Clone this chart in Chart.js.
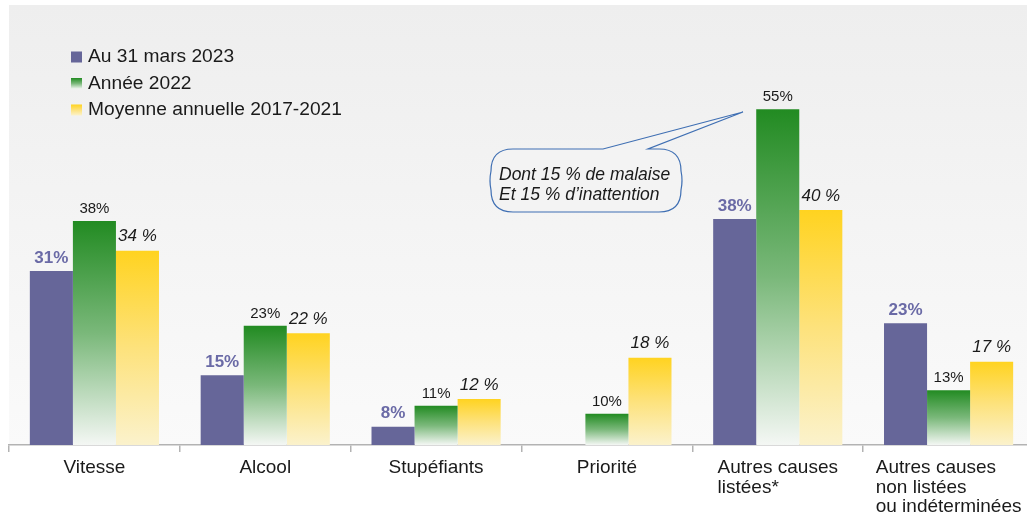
<!DOCTYPE html>
<html>
<head>
<meta charset="utf-8">
<script src="https://cdn.jsdelivr.net/npm/chart.js@4.4.0/dist/chart.umd.min.js"></script>
<style>
    html, body { margin: 0; padding: 0; background: #ffffff; overflow: hidden; }
    #wrap { width: 1040px; height: 517px; }
</style>
</head>
<body>
<div id="wrap"><canvas id="chart" width="1040" height="517"></canvas></div>
<script>
// Categories (x axis)
const categories = [
    ['Vitesse'],
    ['Alcool'],
    ['Stupéfiants'],
    ['Priorité'],
    ['Autres causes', 'listées*'],
    ['Autres causes', 'non listées', 'ou indéterminées']
];

// Series values, in %
const seriesNames = ['Au 31 mars 2023', 'Année 2022', 'Moyenne annuelle 2017-2021'];
const mars2023 = [30.7, 15.3, 7.7, null, 38.4, 23.0];
const annee2022 = [38.1, 22.6, 10.8, 9.6, 54.6, 13.1];
const moyenne1721 = [33.7, 21.5, 11.8, 17.9, 39.7, 17.3];

// Callout text
const calloutLines = ['Dont 15 % de malaise', 'Et 15 % d\u2019inattention'];

const FONT = '"Liberation Sans", Arial, sans-serif';
const PURPLE = '#666699';
const PURPLE_TEXT = '#6a6aa6';
const TEXT = '#1a1a1a';

function greenGradient(ctx, top, bottom) {
    const g = ctx.createLinearGradient(0, top, 0, bottom);
    g.addColorStop(0, '#228b22');
    g.addColorStop(0.5, '#7ab87a');
    g.addColorStop(1, '#f4f7f4');
    return g;
}

function yellowGradient(ctx, top, bottom) {
    const g = ctx.createLinearGradient(0, top, 0, bottom);
    g.addColorStop(0, '#ffd320');
    g.addColorStop(0.5, '#fde27c');
    g.addColorStop(1, '#fbf2cc');
    return g;
}

// Gradient fill running from the top of each bar down to the axis
function barFill(maker, fallback) {
    return function(context) {
        const chart = context.chart;
        const area = chart.chartArea;
        if (!area || context.raw === null || context.raw === undefined) return fallback;
        const top = chart.scales.y.getPixelForValue(context.raw);
        return maker(chart.ctx, top, area.bottom);
    };
}

// Plot background
const backgroundPlugin = {
    id: 'plotBackground',
    beforeDraw(chart) {
        const { ctx, chartArea } = chart;
        const g = ctx.createLinearGradient(0, chartArea.top, 0, chartArea.bottom);
        g.addColorStop(0, '#eeeeee');
        g.addColorStop(1, '#fafafa');
        ctx.save();
        ctx.fillStyle = g;
        ctx.fillRect(chartArea.left, chartArea.top, chartArea.right - chartArea.left, chartArea.bottom - chartArea.top);
        ctx.restore();
    }
};

// Value labels, legend, category labels and callout
const labelsPlugin = {
    id: 'customLabels',
    afterDraw(chart) {
        const ctx = chart.ctx;
        ctx.save();

        // value labels above bars
        const styles = [
            { font: 'bold 17px ' + FONT, color: PURPLE_TEXT, gap: 13, fmt: v => Math.round(v) + '%' },
            { font: '15px ' + FONT, color: TEXT, gap: 12, fmt: v => Math.round(v) + '%' },
            { font: 'italic 17px ' + FONT, color: TEXT, gap: 14, fmt: v => Math.round(v) + ' %' }
        ];
        chart.data.datasets.forEach((ds, i) => {
            const meta = chart.getDatasetMeta(i);
            const st = styles[i];
            ctx.font = st.font;
            ctx.fillStyle = st.color;
            ctx.textAlign = 'center';
            ctx.textBaseline = 'middle';
            meta.data.forEach((bar, j) => {
                const v = ds.data[j];
                if (v === null) return;
                ctx.fillText(st.fmt(v), bar.x, bar.y - st.gap);
            });
        });

        // category labels (longest line centred, others left-aligned to it)
        const xScale = chart.scales.x;
        const baseY = chart.chartArea.bottom + 23;
        ctx.font = '19px ' + FONT;
        ctx.fillStyle = TEXT;
        ctx.textBaseline = 'middle';
        categories.forEach((lines, i) => {
            const cx = xScale.getPixelForValue(i);
            const w = Math.max(...lines.map(l => ctx.measureText(l).width));
            ctx.textAlign = 'left';
            lines.forEach((l, k) => {
                const x = lines.length > 1 ? cx - w / 2 : cx - ctx.measureText(l).width / 2;
                ctx.fillText(l, x, baseY + k * 19.5);
            });
        });

        // legend
        const swatches = [
            () => PURPLE,
            (y) => greenGradient(ctx, y, y + 11),
            (y) => yellowGradient(ctx, y, y + 11)
        ];
        const rowsY = [57, 83.5, 110];
        ctx.font = '19.2px ' + FONT;
        ctx.textAlign = 'left';
        seriesNames.forEach((name, i) => {
            const y = rowsY[i];
            ctx.fillStyle = swatches[i](y - 5.5);
            ctx.fillRect(71, y - 5.5, 11, 11);
            ctx.fillStyle = TEXT;
            ctx.fillText(name, 88, y);
        });

        // callout bubble
        const left = 491, right = 681, top = 149, bottom = 212, r = 22;
        ctx.beginPath();
        ctx.moveTo(left + r, top);
        ctx.lineTo(603, top);
        ctx.lineTo(743, 112);
        ctx.lineTo(648, top);
        ctx.lineTo(right - r, top);
        ctx.quadraticCurveTo(right, top, right, top + r);
        ctx.quadraticCurveTo(right + 2, (top + bottom) / 2, right, bottom - r);
        ctx.quadraticCurveTo(right, bottom, right - r, bottom);
        ctx.lineTo(left + r, bottom);
        ctx.quadraticCurveTo(left, bottom, left, bottom - r);
        ctx.quadraticCurveTo(left - 2, (top + bottom) / 2, left, top + r);
        ctx.quadraticCurveTo(left, top, left + r, top);
        ctx.closePath();
        ctx.fillStyle = 'rgba(243, 243, 243, 0.9)';
        ctx.fill();
        ctx.strokeStyle = '#3f6fb3';
        ctx.lineWidth = 1.2;
        ctx.stroke();

        ctx.font = 'italic 17.5px ' + FONT;
        ctx.fillStyle = TEXT;
        ctx.textAlign = 'left';
        calloutLines.forEach((l, k) => {
            ctx.fillText(l, 499, 175 + k * 20);
        });

        ctx.restore();
    }
};

function createChart() {
    const ctx = document.getElementById('chart').getContext('2d');

    const config = {
        type: 'bar',
        data: {
            labels: categories.map(c => c.join(' ')),
            datasets: [
                {
                    label: seriesNames[0],
                    data: mars2023,
                    backgroundColor: PURPLE
                },
                {
                    label: seriesNames[1],
                    data: annee2022,
                    backgroundColor: barFill(greenGradient, '#228b22')
                },
                {
                    label: seriesNames[2],
                    data: moyenne1721,
                    backgroundColor: barFill(yellowGradient, '#ffd320')
                }
            ]
        },
        options: {
            responsive: false,
            animation: false,
            devicePixelRatio: 1,
            categoryPercentage: 0.756,
            barPercentage: 1,
            layout: {
                padding: { left: 9, top: 5, right: 6, bottom: 0 }
            },
            plugins: {
                legend: { display: false },
                tooltip: { enabled: false }
            },
            scales: {
                x: {
                    grid: {
                        offset: true,
                        drawOnChartArea: false,
                        drawTicks: true,
                        tickLength: 7,
                        color: '#b3b3b3',
                        lineWidth: 1.5
                    },
                    border: { color: '#b3b3b3', width: 1.5 },
                    ticks: { display: false },
                    afterFit: function(scale) {
                        scale.height = 72;
                    }
                },
                y: {
                    display: false,
                    min: 5,
                    max: 70
                }
            }
        },
        plugins: [backgroundPlugin, labelsPlugin]
    };

    return new Chart(ctx, config);
}

createChart();
</script>
</body>
</html>
